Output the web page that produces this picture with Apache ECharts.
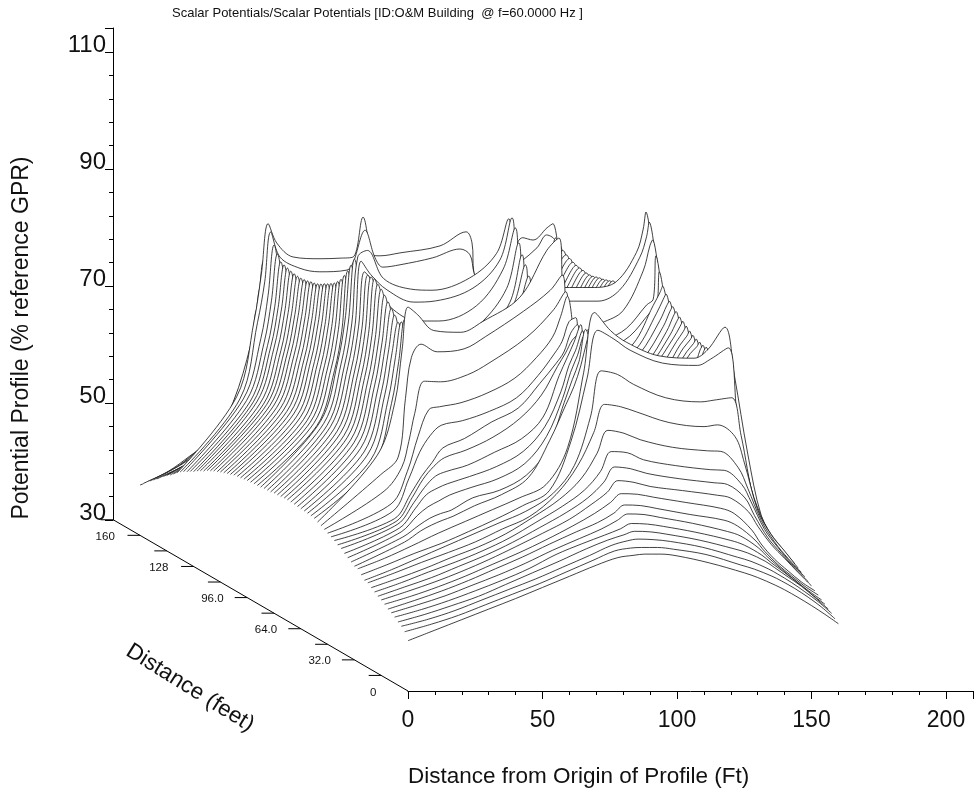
<!DOCTYPE html>
<html><head><meta charset="utf-8"><style>html,body{margin:0;padding:0;background:#fff}#c{width:974px;height:792px}</style>
<script src="https://cdn.jsdelivr.net/npm/echarts@6/dist/echarts.min.js"></script></head><body><div id="c"></div>
<script>
// Front profiles
const frontDepth = [0,2,4,6,8,10,12,14,16,18,20,22,24,26,28,30];
const frontX = [0,10,20,30,40,50,60,70,78,84,88,94,100,112,125,130,136.5,140,145,150,155,160];
const frontZ = [
[38.6,40.4,42.2,44,45.8,47.7,49.6,51.5,52.8,53.2,53.4,53.4,53.1,51.9,50.2,49.4,48.1,47.3,46,44.6,43.1,41.5],
[39.8,41.1,42.6,44.4,46.2,48,50,52,53.6,54.1,54.2,54.2,53.9,53,51.2,50.5,49.3,48.5,47.2,45.7,44,42],
[40.4,41.6,43.1,44.9,46.7,48.5,50.5,52.5,54.2,55,55.3,55.2,54.9,53.9,52.2,51.5,50.2,49.3,47.9,46.3,44.6,42.6],
[40.8,42.1,43.6,45.2,47.2,49.2,51.2,53.3,54.8,55.7,56.3,56.2,55.8,54.8,53.3,52.6,51.2,50.1,48.5,46.9,45,43],
[41.3,42.6,44.1,45.8,47.6,49.6,52,53.9,55.3,56.4,57.3,57.2,56.8,55.8,54.4,53.6,51.9,50.6,48.9,47.1,45.2,43.5],
[41.7,43.1,44.6,46.4,48.2,50.2,52.4,54.4,56,57.5,58.6,58.5,58,57,55.6,54.8,52.8,51.2,49.2,47.3,45.5,43.9],
[42,43.5,45.1,46.9,48.9,50.9,53.1,55.2,56.8,58.4,59.8,59.7,59.2,58.2,57.2,56.2,53.8,51.9,49.6,47.7,45.9,44.4],
[42.5,43.9,45.5,47.3,49.3,51.3,53.5,55.9,58,59.9,61.4,61.3,60.8,59.9,58.9,58,55.2,52.8,50.2,48.2,46.3,44.8],
[42.9,44.4,46,47.8,49.8,52,54.3,56.7,59.2,61.3,63.3,63,62.3,61.6,60.8,60.3,58,55.5,52.4,50,47.6,45.3],
[43.2,44.8,46.4,48.3,50.2,52.4,54.9,57.5,60,62.7,65.3,65,64.2,63.3,62.6,62.3,60,57,53.2,50.5,48,45.7],
[43.6,45.2,47,48.7,50.6,52.8,55.5,58.3,61,64.2,67.6,67.4,66.2,65.2,64.5,64.4,62,59,54.3,51.2,48.5,46.2],
[44,45.6,47.3,49.2,51,53.2,56,59.1,62.6,67,70.9,70.4,69.3,68,67.4,67.3,64.5,61,55.5,51.8,49,46.6],
[44.5,46.2,48,49.7,51.5,53.7,55.8,59.6,64.5,70.2,75,74.6,73.7,71.9,71.2,71.5,69.5,65,56.9,52.7,49.9,47],
[44.6,46.4,48.4,50.4,52.4,54.4,56.4,59.4,64.2,72.5,80.4,79.8,78.1,75.8,75.1,75.4,75.8,69.4,58,53.3,50.2,47.4],
[45.2,47,48.9,50.6,52.6,54.7,57,59.6,68,78.8,87,85.5,83.6,81.4,81,82.1,84,71.5,60,54,50.3,47.8],
[45.9,47.7,49.8,52,54,56,58,60.3,66.6,79.5,89.7,86.6,84.6,82.3,81.9,83.3,87.2,79,65.5,55,50.5,48.1]
];
// Value at the start of the profile (distance 0) for profiles 16..80, read along the lower-left edge
const startZ = [46,46.4,46.8,47.2,47.7,48,48.4,48.7,49,49.3,49.6,49.9,50.2,50.3,50.4,50.45,50.5,50.55,50.6,50.65,50.7,50.65,50.6,50.55,50.5,50.4,50.35,50.3,50.2,50.15,50.1,50.05,50,49.9,49.8,49.7,49.6,49.4,49.2,49,48.8,48.5,48.3,48,47.7,47.3,47,46.6,46.2,45.9,45.5,45.2,44.8,44.3,43.8,43.3,42.9,42.4,41.9,41.3,40.8,40.3,39.8,39.2,38.6];
// Profiles that climb to the ridge beside the front wall
const climbDepth = [31,32,33,34,35,36,37,38,39];
const climbX = [18,24,28,32,36,44,54,64,72,78,81,83.5,86,88,100,118,126,133.5,136,137,141];
const climbZ = [
[50.3,52.2,53.2,54,54.7,56.5,58.4,61.3,67.7,73.8,76.9,80.4,85,88,71,72,73,79,84.5,85.5,70],
[51,53,54.2,55,55.6,57.7,59,61.6,66.2,74,77.9,81,86.5,84,71,72,73,79,83.5,84.8,69],
[51.7,54.5,56,57,58,59.3,60.8,63.4,68,74.5,79,81.8,85.2,82,71,72,73,78.5,82.5,84,68],
[52.2,55.6,57.9,59,59.8,61,62.7,65.3,69.5,75.5,80,82.6,85.9,80,71,72,73,78.5,82,83.3,68],
[52.7,56.4,59,60.9,61.7,62.8,65,67.3,71,78.1,81.2,83.8,86.8,80,71,72,73,78,81.5,82.7,68],
[53,57.1,60.2,62.4,63.9,65.2,67.4,70.6,74.6,79.5,81.8,84,85,78,71,72,73,78,81,82.2,68],
[53.3,57.5,60.5,62.9,65.4,67,69.8,72.2,76.4,79.8,81.8,85,86.5,78,71,72,73,78,81,82,68],
[54.4,60,64.5,67.4,69.1,69.9,71.5,73.8,77.6,81.3,83.5,86.8,87.5,78,71,72,73,78,81,81.8,68],
[55.5,61,67,71.6,72.1,72.8,74.5,77,80.5,84,87.5,91,84,76,71,72,73,78,81,81.7,68]
];
// Profiles across the building
const midDepth = [40,42,44,46,48,50,52,54,56,58,60,62,64,66,68,70,72,74,76,78];
const midX = [16,22.5,25.2,27.4,31,37,47,55,69,79,83.5,86,100,118,126,133.5,136,137,141];
const midZ = [
[57.5,61.5,66,70.8,76.3,76.2,77.4,79.4,83.8,88.5,91.6,83,72,72.5,73.5,78,81,81.8,68],
[60,63,73,80,82.3,81,81.5,83.6,87.9,91.5,94.1,85,73,73,74,78,81,81.8,68],
[63,72,81,88.3,87,84.3,84,85.8,90,98,100.1,88,74,73.5,74.5,78,81,81.8,68],
[61.2,71.5,78.7,85.9,78,72,72,73,82,90,99.8,88,71,73,75,80,81.2,82,68],
[61.5,71.8,79,85.1,77,72,72,73,81,89,98,87,71,73,75,80,81.4,82.2,68],
[62,72.3,79.5,84.7,77,72,71.5,72.5,80,87,96,86,71,73,75,80.3,81.7,82.5,68],
[62.2,72.5,79.7,85.6,78,72.5,71.5,72.5,79,85,93,85,71,73,75,80.5,82,82.9,69],
[62.5,72.8,80,86.4,79,73,72,72.5,78,84,90.4,83,71,73,75.5,80.8,82.5,83.4,69],
[62.7,73,80.2,87.2,80,74,72,73,77,83,88.4,81,71,73,76,81,83,83.9,70],
[62.8,73.1,80.3,88,81,75,72.5,73,76,83,88,81,71,73,76,81.2,83.5,84.3,70],
[62.9,73.2,80.4,88.7,82,75.5,73,73.5,77,83.5,89.4,81,71,73,76,81.5,84.1,84.9,71],
[63,73.3,80.5,89.2,83,76,73.5,74,78,84.5,90.6,82,71.5,73.5,76.5,82,84.6,85.4,71],
[63,73.3,80.5,89.8,84,77,74,74.5,78.5,85.3,92.2,83,72,74,77,82.7,85.2,86,72],
[63.1,73.4,80.6,89.8,85,78,75,75.5,79.5,85.5,93.6,84,72,75,77.5,83.6,86,86.9,73],
[63.1,73.4,80.6,89.8,86,80,77,77.3,81.4,87.5,95.3,86,73,76,78,84.6,86.8,87.9,74],
[63.1,73.4,80.6,90,88,84,81.6,81.6,84.2,90.5,97.5,88,74,77,79,83,84,90,76],
[63.2,73.5,80.7,91.5,89.2,86.6,84.5,84.7,86.9,91.7,98.9,90,75,78,80,84,85,92.4,78],
[63.1,73.4,80.6,91.9,93,88.2,86.4,86.2,88.3,92.5,98.4,90,77,80.6,82.7,89.5,93.8,94.8,80],
[63.1,73.4,80.6,91.2,82,74,73,73,75,77,79,80,84,84,85.9,91.5,95,97.5,83],
[63.1,73.4,80.6,89.8,81,73,72,72,74,76,78,80,86,86,87,92,96,98.9,84]
];
// Rear profiles
const rearDepth = [80,82,84,86,88,90,92,94,96,98,100,102,104,106,108,110,112,114,116,118,120,122,124];
const rearLeftX = [16,22.5,25.2,27.4,31];
const rearLeftZ = [
[62.1,71.5,78.2,88.5,80],[62.1,71.5,78.2,87.4,79],[62,71.4,78.1,86.4,78],
[61.9,71.3,78,85.7,77],[61.8,71.2,77.9,85.1,76.5],[61.8,71.2,77.7,84.7,76],
[61.7,71,77.5,84.3,75.5],[61.7,71,77.4,84,75.5],[61.6,70.8,77.2,83.6,75],
[61.5,70.6,77,83.3,75],[61.4,70.5,76.9,83.1,74.5],[61.3,70.4,76.8,83,74.5],
[61.2,70.3,76.7,82.8,74.5],[61.1,70.2,76.6,82.7,74.5],[60.9,70,76.4,82.6,74.5],
[60.7,69.8,76.2,82.6,74.5],[60.4,69.6,76.1,82.7,74.5],[60.2,69.5,76,82.8,74.5],
[60.1,69.5,76,83,74.5],[59.8,69.3,75.9,83.2,75],[59.5,69.1,75.8,83.4,75],
[59.4,69.3,76.4,84.4,76],[59.3,69.6,77,85.6,77]
];
const rearInteriorX = [37,47,55,69,79,83.5,86,100];
const rearInteriorZ = [72,70,70,72,74,75,75,76];
const rearRightX = [118,126,133.5,136,137,141];
const rearRightZ = [
[76.3,79.8,85.3,78.3,73.3,60.3],[76.4,79.9,85.4,78.4,73.4,60.4],[76.4,79.9,85.4,78.4,73.4,60.4],
[76.3,79.8,85.3,78.3,73.3,60.3],[76.1,79.6,85.1,78.1,73.1,60.1],[75.9,79.4,84.9,77.9,72.9,59.9],
[75.8,79.3,84.8,77.8,72.8,59.8],[75.5,79,84.5,77.5,72.5,59.5],[75.3,78.8,84.3,77.3,72.3,59.3],
[75.1,78.6,84.1,77.1,72.1,59.1],[75,78.5,84,77,72,59],[74.8,78.3,83.8,76.8,71.8,58.8],
[74.6,78.1,83.6,76.6,71.6,58.6],[74.5,78,83.5,76.5,71.5,58.5],[74.5,78,83.5,76.5,71.5,58.5],
[74.6,78.1,83.6,76.6,71.6,58.6],[74.7,78.2,83.7,76.7,71.7,58.7],[74.8,78.3,83.8,76.8,71.8,58.8],
[75,78.5,84,77,72,59],[75.3,78.8,84.3,77.3,72.3,59.3],[75.6,79.1,84.6,77.6,72.6,59.6],
[76,79.5,85,78,73,60],[76.4,79.9,85.4,78.4,73.4,60.4]
];
// Back ridge profiles
const ridgeA_X = [16,22.5,25.2,27.4,30.9,38.3,45.7,55.8,58,62.5,66.2,69.1,75.5,87.7,97.8,101.5,103,108,115,126.4,130,133.5,137];
const ridgeA_Z = [59,72,79,87.5,83.2,81.3,80.7,81,82.2,87.8,83.1,81.5,81.9,83.1,84.6,83.6,80.5,74,80,84.8,87,85.8,74];
const ridgeB_X = [16,22.5,25.2,27.7,30.9,37,47,54.4,59.3,63,66.7,69.3,76.7,91.6,101.3,103.5,104.2,108,115,122.4,126.2,131.4,133.6,137];
const ridgeB_Z = [59,72,80,88.6,85.3,82.9,82.6,82.7,82.9,89.7,83.2,83.1,83.6,84.8,87.2,85.3,80.2,74,78,86.2,85.8,87.9,88.6,76];
// Last profiles (only the part left of the ridge can be seen)
const tailDepth = [130,132,134,136,138,140,144,148,152,156,160];
const tailX = [8,16,22.5,25.2,27.4,31];
const tailZ = [
[50.6,57.8,67.6,74.4,82,76],[49.6,56,64.4,70.5,77,71],[48.8,54.4,61.9,67.2,73,67],
[47.8,52.5,58.7,63.1,68,62],[47.1,51.3,56.8,60.8,64.5,59],[46.4,50.1,54.8,58.2,61.5,56],
[45.5,48.6,52.2,54.6,56.5,52],[44.2,47.3,50.3,51.9,53.5,50],
[42.8,45.7,48.2,49.7,51,48],[41.6,44.2,46.4,47.7,48.8,46],[40.1,42.4,44.4,45.3,46.2,44.5]
];
// Axis ticks
const depthTicks = [0,16,32,48,64,80,96,112,128,144,160];
const depthLabels = {0:'0',32:'32.0',64:'64.0',96:'96.0',128:'128',160:'160'};

// Oblique projection of the waterfall, in axis units per ft of depth
const shearX = 1.675/2.69, shearY = 0.973/5.85, depthCorner = -16, profileStep = 2;
const FONT = '"Liberation Sans", Arial, sans-serif';

const profiles = [];
climbDepth.forEach((d,k)=>profiles.push([d,climbX,climbZ[k]]));
midDepth.forEach((d,k)=>profiles.push([d,midX,midZ[k]]));
rearDepth.forEach((d,k)=>profiles.push([d,rearLeftX.concat(rearInteriorX,rearRightX),rearLeftZ[k].concat(rearInteriorZ,rearRightZ[k])]));
profiles.push([126,ridgeA_X,ridgeA_Z],[128,ridgeB_X,ridgeB_Z]);
tailDepth.forEach((d,k)=>profiles.push([d,tailX,tailZ[k]]));

function lineSeries(order,start,body,floorDepth){
  return {
    type:'line', xAxisIndex:2, yAxisIndex:2, z:10+order, silent:true, showSymbol:false, symbol:'none',
    smooth:0.35, animation:false, clip:false,
    lineStyle:{color:'#111',width:0.8},
    areaStyle:{color:'#fff',opacity:1,origin:30+shearY*floorDepth},
    data:start.concat(body)
  };
}
const series = [];
for(let k=profiles.length-1;k>=0;k--){
  const [d,xs,zs] = profiles[k], n = k+frontDepth.length, dn = n*profileStep;
  series.push(lineSeries(80-n,[[-shearX*dn,startZ[k]+shearY*dn]],xs.map((x,j)=>[x-shearX*d,zs[j]+shearY*d]),dn));
}
for(let k=frontDepth.length-1;k>=0;k--){
  const d = frontDepth[k];
  series.push(lineSeries(80-k,[],frontX.map((x,j)=>[x-shearX*d,frontZ[k][j]+shearY*d]),d));
}
// depth axis
series.push({
  type:'line', xAxisIndex:2, yAxisIndex:2, z:300, silent:true, showSymbol:false, symbol:'none', animation:false,
  lineStyle:{color:'#000',width:1},
  data:[0,160-depthCorner].map(d=>[-shearX*d,30+shearY*d])
});
series.push({
  type:'custom', xAxisIndex:2, yAxisIndex:2, z:300, silent:true, animation:false, clip:false,
  data: depthTicks.map(v=>[v]),
  renderItem(params,api){
    const v = api.value(0), d = v-depthCorner;
    const p = api.coord([-shearX*d,30+shearY*d]);
    const kids = [{type:'line',shape:{x1:p[0]-12.5,y1:p[1],x2:p[0],y2:p[1]},style:{stroke:'#000',lineWidth:1}}];
    if(depthLabels[v]!==undefined) kids.push({type:'text',style:{text:depthLabels[v],x:p[0]-8,y:p[1]+17,textAlign:'center',textVerticalAlign:'middle',font:'11.5px '+FONT,fill:'#111'}});
    return {type:'group',children:kids};
  }
});

const px = 2.69, py = 5.85;
const chart = echarts.init(document.getElementById('c'),null,{renderer:'canvas'});
chart.setOption({
  animation:false, backgroundColor:'#fff',
  grid:[
    {left:408,top:690,width:210*px,height:1},
    {left:113,top:28,width:1,height:492},
    {left:0,top:0,width:974,height:792}
  ],
  xAxis:[
    {gridIndex:0,type:'value',min:0,max:210,interval:50,splitLine:{show:false},
     axisLine:{onZero:false,lineStyle:{color:'#000',width:1}},
     axisTick:{length:8,lineStyle:{color:'#000'}},minorTick:{show:true,splitNumber:5,length:4,lineStyle:{color:'#000'}},
     axisLabel:{fontFamily:FONT,fontSize:23,color:'#111',margin:18,showMaxLabel:false,hideOverlap:false}},
    {gridIndex:1,type:'value',show:false,min:0,max:1},
    {gridIndex:2,type:'value',show:false,min:-408/px,max:(974-408)/px}
  ],
  yAxis:[
    {gridIndex:0,type:'value',show:false,min:0,max:1},
    {gridIndex:1,type:'value',min:30,max:30+492/py,interval:20,splitLine:{show:false},
     axisLine:{onZero:false,lineStyle:{color:'#000',width:1}},
     axisTick:{length:8,lineStyle:{color:'#000'}},minorTick:{show:true,splitNumber:5,length:4,lineStyle:{color:'#000'}},
     axisLabel:{fontFamily:FONT,fontSize:24,color:'#111',margin:7,verticalAlign:'bottom',lineHeight:13,showMaxLabel:false,hideOverlap:false}},
    {gridIndex:2,type:'value',show:false,min:30-(792-691)/py,max:30+691/py}
  ],
  series,
  graphic:[
    {type:'text',x:172,y:7,z:400,style:{text:'Scalar Potentials/Scalar Potentials [ID:O&M Building  @ f=60.0000 Hz ]',font:'13px '+FONT,fill:'#111'}},
    {type:'text',x:408,y:765,z:400,style:{text:'Distance from Origin of Profile (Ft)',font:'22.5px '+FONT,fill:'#111'}},
    {type:'text',x:22,y:338,rotation:Math.PI/2,z:400,style:{text:'Potential Profile (% reference GPR)',font:'23px '+FONT,fill:'#111',textAlign:'center',textVerticalAlign:'middle'}},
    {type:'text',x:190,y:688,rotation:-32*Math.PI/180,z:400,style:{text:'Distance (feet)',font:'22.5px '+FONT,fill:'#111',textAlign:'center',textVerticalAlign:'middle'}}
  ]
});
</script></body></html>
